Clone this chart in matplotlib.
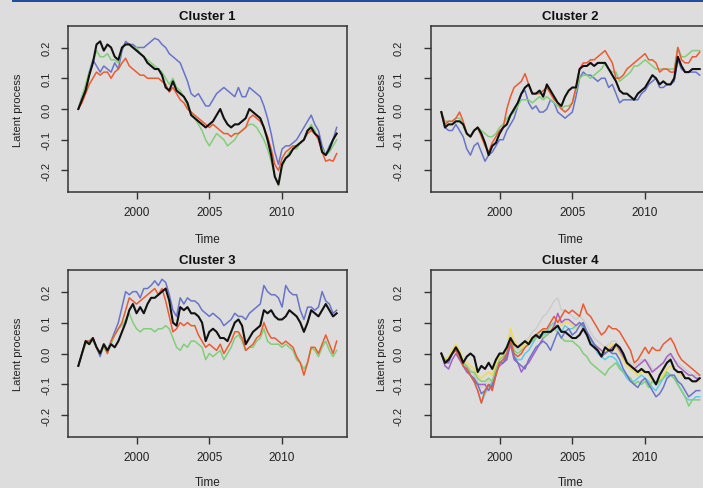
import numpy as np
import matplotlib
matplotlib.use("Agg")
import matplotlib.pyplot as plt
from matplotlib.patches import Rectangle

plt.rcParams['font.family'] = ['Liberation Sans', 'DejaVu Sans']
plt.rcParams['axes.unicode_minus'] = False

# quarterly time axis 1996.00 ... 2013.75
time = np.arange(1996.0, 2014.0, 0.25)

x_ticks = [2000, 2005, 2010]
y_ticks = [-0.2, -0.1, 0.0, 0.1, 0.2]
y_tick_labels = ["-0.2", "-0.1", "0.0", "0.1", "0.2"]
titles = ["Cluster 1", "Cluster 2", "Cluster 3", "Cluster 4"]

# ---------------- Cluster 1 ----------------
c1_blue = [0.00, 0.04, 0.07, 0.12, 0.16, 0.14, 0.12, 0.14,
           0.13, 0.12, 0.15, 0.13, 0.19, 0.22, 0.21, 0.21,
           0.20, 0.20, 0.20, 0.21, 0.22, 0.23, 0.225, 0.21,
           0.20, 0.18, 0.17, 0.16, 0.15, 0.12, 0.09, 0.05,
           0.04, 0.05, 0.03, 0.01, 0.01, 0.03, 0.05, 0.06,
           0.07, 0.06, 0.05, 0.04, 0.07, 0.04, 0.04, 0.07,
           0.06, 0.05, 0.04, 0.01, -0.03, -0.08, -0.14, -0.18,
           -0.13, -0.12, -0.12, -0.11, -0.10, -0.08, -0.06, -0.04,
           -0.02, -0.05, -0.07, -0.12, -0.15, -0.12, -0.10, -0.06]
c1_green = [0.00, 0.04, 0.08, 0.12, 0.15, 0.19, 0.17, 0.17,
            0.18, 0.16, 0.16, 0.15, 0.20, 0.21, 0.21, 0.20,
            0.20, 0.18, 0.17, 0.16, 0.15, 0.14, 0.13, 0.12,
            0.10, 0.08, 0.10, 0.07, 0.06, 0.04, 0.01, -0.01,
            -0.03, -0.05, -0.07, -0.10, -0.12, -0.10, -0.08, -0.09,
            -0.10, -0.12, -0.11, -0.10, -0.08, -0.07, -0.06, -0.05,
            -0.05, -0.06, -0.08, -0.10, -0.13, -0.17, -0.22, -0.25,
            -0.19, -0.16, -0.14, -0.13, -0.13, -0.11, -0.10, -0.07,
            -0.05, -0.07, -0.10, -0.13, -0.15, -0.14, -0.12, -0.10]
c1_red = [0.00, 0.02, 0.05, 0.08, 0.10, 0.12, 0.11, 0.12,
          0.12, 0.10, 0.12, 0.13, 0.15, 0.165, 0.14, 0.13,
          0.12, 0.11, 0.11, 0.10, 0.10, 0.10, 0.10, 0.09,
          0.08, 0.055, 0.07, 0.05, 0.03, 0.02, 0.00, -0.01,
          -0.02, -0.03, -0.04, -0.05, -0.06, -0.05, -0.06, -0.07,
          -0.08, -0.08, -0.09, -0.08, -0.08, -0.07, -0.06, -0.03,
          -0.02, -0.03, -0.04, -0.06, -0.09, -0.13, -0.18, -0.20,
          -0.16, -0.14, -0.13, -0.12, -0.12, -0.11, -0.10, -0.08,
          -0.07, -0.08, -0.10, -0.14, -0.17, -0.165, -0.17, -0.145]
c1_black = [0.00, 0.03, 0.06, 0.11, 0.15, 0.21, 0.22, 0.19,
            0.21, 0.20, 0.17, 0.16, 0.20, 0.21, 0.21, 0.20,
            0.19, 0.18, 0.17, 0.15, 0.14, 0.13, 0.13, 0.11,
            0.07, 0.06, 0.09, 0.06, 0.05, 0.04, 0.02, -0.02,
            -0.03, -0.04, -0.05, -0.06, -0.05, -0.04, -0.02, 0.00,
            -0.03, -0.05, -0.06, -0.05, -0.05, -0.04, -0.03, 0.00,
            -0.01, -0.02, -0.03, -0.06, -0.10, -0.15, -0.22, -0.245,
            -0.18, -0.16, -0.15, -0.13, -0.12, -0.11, -0.10, -0.07,
            -0.06, -0.08, -0.09, -0.14, -0.15, -0.13, -0.10, -0.08]

# ---------------- Cluster 2 ----------------
c2_blue = [-0.01, -0.06, -0.07, -0.07, -0.05, -0.07, -0.09, -0.13,
           -0.15, -0.12, -0.11, -0.14, -0.17, -0.15, -0.14, -0.12,
           -0.10, -0.10, -0.07, -0.05, -0.03, 0.01, 0.05, 0.06,
           0.02, 0.00, 0.01, -0.01, -0.01, 0.00, 0.03, 0.02,
           -0.01, -0.02, -0.03, -0.02, -0.01, 0.04, 0.10, 0.12,
           0.11, 0.11, 0.10, 0.09, 0.10, 0.10, 0.07, 0.08,
           0.05, 0.02, 0.03, 0.03, 0.03, 0.03, 0.03, 0.05,
           0.06, 0.08, 0.09, 0.10, 0.07, 0.07, 0.08, 0.08,
           0.09, 0.16, 0.13, 0.12, 0.12, 0.12, 0.12, 0.11]
c2_green = [-0.01, -0.04, -0.04, -0.04, -0.03, -0.03, -0.05, -0.08,
            -0.09, -0.07, -0.06, -0.07, -0.08, -0.09, -0.09, -0.08,
            -0.06, -0.05, -0.03, -0.02, -0.01, 0.01, 0.03, 0.03,
            0.03, 0.02, 0.03, 0.04, 0.03, 0.04, 0.03, 0.02,
            0.01, 0.00, 0.01, 0.01, 0.02, 0.06, 0.10, 0.11,
            0.11, 0.10, 0.11, 0.12, 0.13, 0.15, 0.13, 0.12,
            0.12, 0.09, 0.10, 0.11, 0.12, 0.14, 0.14, 0.15,
            0.16, 0.15, 0.14, 0.13, 0.13, 0.13, 0.13, 0.13,
            0.13, 0.20, 0.17, 0.17, 0.18, 0.19, 0.19, 0.19]
c2_red = [-0.01, -0.05, -0.04, -0.04, -0.03, -0.01, -0.04, -0.08,
          -0.09, -0.07, -0.06, -0.09, -0.12, -0.14, -0.11, -0.09,
          -0.07, -0.06, 0.00, 0.04, 0.07, 0.08, 0.09, 0.115,
          0.08, 0.05, 0.05, 0.05, 0.06, 0.07, 0.05, 0.03,
          0.02, 0.00, -0.01, 0.00, 0.02, 0.07, 0.13, 0.15,
          0.15, 0.16, 0.16, 0.17, 0.18, 0.19, 0.17, 0.15,
          0.10, 0.10, 0.11, 0.13, 0.14, 0.15, 0.16, 0.17,
          0.18, 0.16, 0.16, 0.15, 0.12, 0.13, 0.13, 0.12,
          0.12, 0.20, 0.16, 0.15, 0.15, 0.17, 0.17, 0.185]
c2_black = [-0.01, -0.06, -0.05, -0.05, -0.04, -0.04, -0.05, -0.08,
            -0.09, -0.07, -0.06, -0.08, -0.11, -0.15, -0.12, -0.11,
            -0.08, -0.06, -0.05, -0.02, 0.00, 0.02, 0.05, 0.07,
            0.08, 0.05, 0.05, 0.06, 0.04, 0.08, 0.06, 0.04,
            0.02, 0.01, 0.04, 0.06, 0.07, 0.07, 0.13, 0.14,
            0.14, 0.15, 0.14, 0.15, 0.15, 0.15, 0.13, 0.11,
            0.09, 0.06, 0.05, 0.05, 0.04, 0.03, 0.05, 0.06,
            0.07, 0.09, 0.11, 0.10, 0.08, 0.09, 0.08, 0.08,
            0.10, 0.17, 0.14, 0.12, 0.12, 0.13, 0.13, 0.13]

# ---------------- Cluster 3 ----------------
c3_blue = [-0.04, 0.00, 0.04, 0.04, 0.05, 0.02, -0.01, 0.03,
           0.01, 0.04, 0.07, 0.10, 0.15, 0.20, 0.19, 0.20,
           0.20, 0.18, 0.21, 0.21, 0.22, 0.235, 0.22, 0.24,
           0.23, 0.19, 0.14, 0.12, 0.18, 0.16, 0.18, 0.17,
           0.17, 0.16, 0.14, 0.13, 0.12, 0.13, 0.12, 0.11,
           0.09, 0.10, 0.11, 0.13, 0.12, 0.12, 0.11, 0.13,
           0.14, 0.15, 0.16, 0.22, 0.20, 0.19, 0.19, 0.18,
           0.15, 0.22, 0.20, 0.19, 0.19, 0.14, 0.11, 0.15,
           0.15, 0.14, 0.15, 0.20, 0.17, 0.16, 0.13, 0.14]
c3_green = [-0.04, 0.00, 0.03, 0.04, 0.04, 0.02, 0.00, 0.02,
            0.00, 0.03, 0.06, 0.08, 0.09, 0.11, 0.13, 0.10,
            0.08, 0.07, 0.08, 0.08, 0.08, 0.07, 0.08, 0.08,
            0.09, 0.08, 0.05, 0.02, 0.01, 0.03, 0.02, 0.04,
            0.04, 0.03, 0.02, -0.02, 0.00, -0.01, 0.00, 0.01,
            -0.02, 0.00, 0.02, 0.05, 0.06, 0.04, 0.01, 0.02,
            0.02, 0.04, 0.05, 0.08, 0.04, 0.03, 0.03, 0.03,
            0.02, 0.03, 0.02, 0.01, -0.02, -0.03, -0.05, -0.03,
            0.02, 0.01, -0.01, 0.02, 0.04, 0.01, -0.01, 0.01]
c3_red = [-0.04, 0.00, 0.04, 0.04, 0.05, 0.02, 0.00, 0.03,
          0.00, 0.04, 0.06, 0.08, 0.10, 0.14, 0.18, 0.17,
          0.16, 0.17, 0.18, 0.19, 0.20, 0.21, 0.19, 0.21,
          0.17, 0.12, 0.07, 0.08, 0.10, 0.09, 0.10, 0.09,
          0.09, 0.06, 0.04, 0.02, 0.03, 0.02, 0.01, 0.03,
          0.00, 0.02, 0.04, 0.07, 0.07, 0.05, 0.01, 0.02,
          0.03, 0.05, 0.06, 0.10, 0.07, 0.05, 0.05, 0.04,
          0.03, 0.04, 0.03, 0.02, -0.01, -0.03, -0.07, -0.03,
          0.02, 0.02, 0.00, 0.03, 0.06, 0.03, 0.00, 0.04]
c3_black = [-0.04, 0.00, 0.04, 0.03, 0.05, 0.02, 0.00, 0.03,
            0.01, 0.03, 0.02, 0.04, 0.07, 0.10, 0.14, 0.16,
            0.13, 0.15, 0.13, 0.16, 0.18, 0.18, 0.19, 0.20,
            0.21, 0.17, 0.10, 0.09, 0.15, 0.14, 0.15, 0.13,
            0.13, 0.12, 0.10, 0.04, 0.07, 0.08, 0.07, 0.05,
            0.05, 0.04, 0.07, 0.10, 0.11, 0.09, 0.03, 0.05,
            0.07, 0.08, 0.09, 0.14, 0.13, 0.14, 0.12, 0.11,
            0.11, 0.12, 0.14, 0.13, 0.12, 0.10, 0.07, 0.10,
            0.14, 0.13, 0.12, 0.14, 0.16, 0.14, 0.12, 0.13]

# ---------------- Cluster 4 ----------------
c4_gray = [0.00, -0.02, -0.02, 0.00, 0.02, 0.00, -0.03, -0.04,
           -0.05, -0.07, -0.09, -0.11, -0.10, -0.09, -0.09, -0.05,
           -0.02, -0.01, 0.01, 0.06, 0.02, 0.01, 0.02, 0.04,
           0.05, 0.07, 0.08, 0.10, 0.12, 0.13, 0.15, 0.17,
           0.18, 0.14, 0.14, 0.13, 0.12, 0.11, 0.12, 0.11,
           0.09, 0.07, 0.05, 0.04, 0.03, 0.02, 0.03, 0.04,
           0.04, 0.02, 0.00, -0.02, -0.03, -0.04, -0.03, -0.02,
           -0.02, -0.03, -0.05, -0.05, -0.04, -0.03, -0.02, -0.01,
           -0.02, -0.03, -0.04, -0.05, -0.06, -0.07, -0.07, -0.07]
c4_yellow = [0.00, -0.02, -0.01, 0.01, 0.03, 0.01, -0.02, -0.03,
             -0.04, -0.05, -0.07, -0.08, -0.07, -0.06, -0.07, -0.03,
             -0.01, 0.00, 0.02, 0.08, 0.04, 0.02, 0.02, 0.03,
             0.04, 0.05, 0.06, 0.07, 0.08, 0.07, 0.08, 0.10,
             0.11, 0.09, 0.10, 0.10, 0.09, 0.08, 0.09, 0.09,
             0.07, 0.05, 0.03, 0.02, 0.01, 0.00, 0.02, 0.03,
             0.02, 0.00, -0.02, -0.04, -0.05, -0.06, -0.07, -0.06,
             -0.06, -0.07, -0.09, -0.10, -0.08, -0.07, -0.05, -0.04,
             -0.05, -0.06, -0.07, -0.08, -0.08, -0.09, -0.09, -0.09]
c4_cyan = [0.00, -0.03, -0.02, 0.00, 0.02, 0.00, -0.04, -0.05,
           -0.07, -0.09, -0.12, -0.16, -0.13, -0.11, -0.09, -0.06,
           -0.03, -0.02, -0.01, 0.03, -0.01, -0.02, -0.02, 0.00,
           0.01, 0.03, 0.05, 0.06, 0.06, 0.07, 0.09, 0.10,
           0.08, 0.07, 0.09, 0.08, 0.08, 0.09, 0.10, 0.08,
           0.06, 0.04, 0.02, 0.00, -0.01, -0.02, -0.01, -0.01,
           -0.02, -0.04, -0.06, -0.08, -0.09, -0.09, -0.08, -0.07,
           -0.08, -0.09, -0.11, -0.12, -0.10, -0.08, -0.07, -0.07,
           -0.08, -0.10, -0.12, -0.14, -0.15, -0.15, -0.14, -0.14]
c4_purple = [0.00, -0.04, -0.05, -0.02, 0.00, -0.02, -0.04, -0.06,
             -0.07, -0.09, -0.10, -0.10, -0.10, -0.12, -0.10, -0.06,
             -0.04, -0.03, -0.02, 0.03, -0.02, -0.03, -0.06, -0.04,
             -0.03, -0.01, 0.01, 0.03, 0.05, 0.06, 0.07, 0.09,
             0.13, 0.10, 0.11, 0.11, 0.10, 0.09, 0.10, 0.09,
             0.07, 0.05, 0.03, 0.02, 0.01, 0.00, 0.01, 0.02,
             0.03, 0.01, -0.01, -0.03, -0.04, -0.05, -0.04, -0.03,
             -0.02, -0.04, -0.06, -0.05, -0.04, -0.03, -0.01, 0.00,
             -0.02, -0.04, -0.05, -0.06, -0.07, -0.07, -0.08, -0.08]
c4_green = [0.00, -0.02, -0.02, 0.00, 0.02, 0.00, -0.03, -0.04,
            -0.06, -0.06, -0.08, -0.09, -0.09, -0.08, -0.09, -0.05,
            -0.02, -0.01, 0.00, 0.05, 0.01, 0.00, 0.01, 0.02,
            0.03, 0.04, 0.05, 0.06, 0.05, 0.06, 0.07, 0.08,
            0.07, 0.05, 0.04, 0.04, 0.04, 0.03, 0.02, 0.00,
            -0.01, -0.03, -0.04, -0.05, -0.06, -0.07, -0.05, -0.04,
            -0.03, -0.05, -0.06, -0.07, -0.08, -0.10, -0.09, -0.10,
            -0.09, -0.11, -0.09, -0.10, -0.09, -0.08, -0.06, -0.07,
            -0.08, -0.10, -0.12, -0.14, -0.17, -0.15, -0.15, -0.15]
c4_blue = [0.00, -0.03, -0.03, 0.00, 0.01, -0.01, -0.04, -0.05,
           -0.07, -0.08, -0.10, -0.13, -0.12, -0.10, -0.11, -0.07,
           -0.03, -0.03, -0.01, 0.04, -0.01, -0.03, -0.04, -0.05,
           -0.02, 0.00, 0.02, 0.03, 0.04, 0.03, 0.01, 0.04,
           0.07, 0.05, 0.07, 0.08, 0.06, 0.07, 0.09, 0.10,
           0.07, 0.05, 0.03, 0.01, -0.01, 0.00, 0.01, 0.00,
           0.00, -0.02, -0.05, -0.07, -0.09, -0.10, -0.11, -0.09,
           -0.08, -0.10, -0.12, -0.14, -0.13, -0.11, -0.08, -0.07,
           -0.07, -0.09, -0.10, -0.12, -0.14, -0.13, -0.12, -0.12]
c4_red = [0.00, -0.03, -0.02, 0.00, 0.01, -0.01, -0.04, -0.05,
          -0.07, -0.09, -0.12, -0.16, -0.12, -0.10, -0.12, -0.07,
          -0.03, -0.02, 0.00, 0.04, 0.00, -0.01, 0.00, 0.02,
          0.03, 0.05, 0.06, 0.07, 0.08, 0.08, 0.10, 0.12,
          0.10, 0.12, 0.14, 0.13, 0.14, 0.13, 0.12, 0.16,
          0.13, 0.12, 0.10, 0.08, 0.06, 0.07, 0.09, 0.08,
          0.08, 0.07, 0.05, 0.03, 0.01, -0.03, -0.02, 0.00,
          0.02, 0.00, 0.02, 0.01, 0.01, 0.03, 0.04, 0.05,
          0.03, 0.00, -0.02, -0.03, -0.04, -0.05, -0.06, -0.07]
c4_black = [0.00, -0.03, -0.02, 0.00, 0.02, 0.00, -0.03, -0.01,
            0.00, -0.01, -0.06, -0.04, -0.05, -0.03, -0.05, -0.02,
            0.00, 0.00, 0.02, 0.05, 0.03, 0.02, 0.03, 0.04,
            0.03, 0.05, 0.06, 0.05, 0.07, 0.07, 0.07, 0.08,
            0.09, 0.07, 0.07, 0.06, 0.05, 0.05, 0.06, 0.08,
            0.06, 0.03, 0.02, 0.01, -0.01, 0.02, 0.01, 0.01,
            0.03, 0.02, 0.00, -0.03, -0.04, -0.05, -0.06, -0.05,
            -0.06, -0.06, -0.08, -0.10, -0.07, -0.05, -0.03, -0.02,
            -0.05, -0.06, -0.06, -0.08, -0.08, -0.09, -0.09, -0.08]

COL = {
    'black': '#111111', 'blue': '#6874c8', 'green': '#82ce78', 'red': '#ec5a32',
    'purple': '#a660c2', 'cyan': '#5ccbe6', 'yellow': '#eedc52', 'gray': '#cdcdcd',
}

clusters = [
    [(c1_blue, 'blue'), (c1_green, 'green'), (c1_red, 'red'), (c1_black, 'black')],
    [(c2_blue, 'blue'), (c2_green, 'green'), (c2_red, 'red'), (c2_black, 'black')],
    [(c3_blue, 'blue'), (c3_green, 'green'), (c3_red, 'red'), (c3_black, 'black')],
    [(c4_gray, 'gray'), (c4_yellow, 'yellow'), (c4_cyan, 'cyan'), (c4_purple, 'purple'),
     (c4_green, 'green'), (c4_blue, 'blue'), (c4_red, 'red'), (c4_black, 'black')],
]

W, H = 703, 489
BG = '#dddddd'
FRAME = '#333333'
fig = plt.figure(figsize=(W / 100, H / 100), dpi=100)
fig.patch.set_facecolor(BG)

# top blue rule of the page
fig.add_artist(Rectangle((12 / W, 1 - 3 / H), 1, 3 / H, transform=fig.transFigure,
                         facecolor='#1d4f9e', edgecolor='none'))

# panel boxes in pixels: left, top, right, bottom
boxes = [(68, 27, 347, 193), (431, 27, 710, 193), (68, 271, 347, 438), (431, 271, 710, 438)]
ypads = [7, 15, 7, 15]

for i, (l, t, r, b) in enumerate(boxes):
    ax = fig.add_axes([l / W, 1 - b / H, (r - l) / W, (b - t) / H])
    ax.set_facecolor(BG)
    for series, cname in clusters[i]:
        lw = 1.5 if cname == 'black' else 1.1
        ax.plot(time, series, color=COL[cname], lw=lw, solid_joinstyle='round')
    ax.set_xlim(1995.29, 2014.46)
    ax.set_ylim(-0.27, 0.27)
    ax.set_xticks(x_ticks)
    ax.set_xticklabels([str(v) for v in x_ticks])
    ax.set_yticks(y_ticks)
    ax.set_yticklabels(y_tick_labels, rotation=90, va='center')
    for s in ax.spines.values():
        s.set_color(FRAME)
        s.set_linewidth(1.1)
    ax.tick_params(axis='both', direction='out', length=5, width=1.0, color=FRAME,
                   labelcolor='#222222')
    ax.tick_params(axis='x', pad=5, labelsize=8.5)
    ax.tick_params(axis='y', pad=ypads[i], labelsize=8)
    ax.set_title(titles[i], fontsize=9.5, fontweight='bold', color='#111111', pad=5)
    ax.set_xlabel('Time', fontsize=8.5, color='#222222')
    ax.set_ylabel('Latent process', fontsize=8, color='#222222')
    hpx = b - t
    wpx = r - l
    xl_off = (240 - 193) if i < 2 else (483 - 438)
    ax.xaxis.set_label_coords(0.5, -xl_off / hpx)
    ax.xaxis.label.set_va('center')
    yl_off = 50 if i % 2 == 0 else 49
    ax.yaxis.set_label_coords(-yl_off / wpx, 0.5)
    ax.yaxis.label.set_va('center')

fig.savefig('out.png', dpi=100, facecolor=BG)
